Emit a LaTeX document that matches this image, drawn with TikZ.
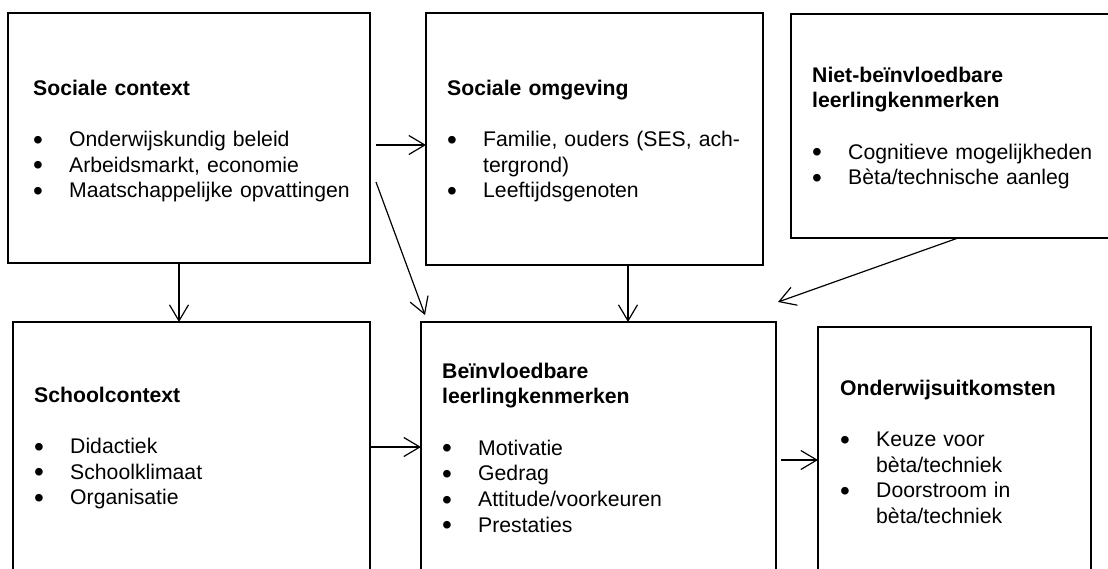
\documentclass[tikz,border=0pt]{standalone}
\usepackage{fontspec}
\setmainfont{Liberation Sans}
\usepackage{tikz}
\usetikzlibrary{arrows.meta,calc}
\newcommand{\bol}{\makebox[36pt][l]{\raisebox{-2.6pt}{\fontsize{28}{25.7}\selectfont\textbullet}}}
\newcommand{\verv}{\hspace*{36pt}}

\begin{document}
\begin{tikzpicture}[x=1pt,y=-1pt,
  font=\fontsize{21.2}{25.7}\selectfont,
  kader/.style={draw,line width=1.8pt,anchor=north west,inner sep=0pt,outer sep=0pt},
  tekst/.style={anchor=base west,inner sep=0pt,align=left,text width=#1},
  pijl/.style={-{Straight Barb[length=16pt,width=19pt]},line width=1.2pt}]
\useasboundingbox (0,0) rectangle (1108,568);
\clip (0,0) rectangle (1108,568);
\node[kader,minimum width=362pt,minimum height=250pt] (ctx) at (8,13) {};
\node[tekst=330pt] (ctxT) at (33,95) {\textbf{Sociale context}\\[25.7pt]\bol Onderwijskundig beleid\\\bol Arbeidsmarkt, economie\\\bol Maatschappelijke opvattingen};
\node[kader,minimum width=337pt,minimum height=252pt] (omg) at (426,13) {};
\node[tekst=310pt] (omgT) at (447,95) {\textbf{Sociale omgeving}\\[25.7pt]\bol Familie, ouders (SES, ach-\\\verv tergrond)\\\bol Leeftijdsgenoten};
\node[kader,minimum width=324pt,minimum height=224pt] (niet) at (791,14) {};
\node[tekst=290pt] (nietT) at (812,82) {\textbf{Niet-beïnvloedbare}\\\textbf{leerlingkenmerken}\\[25.7pt]\bol Cognitieve mogelijkheden\\\bol Bèta/technische aanleg};
\node[kader,minimum width=357pt,minimum height=260pt] (school) at (13,322) {};
\node[tekst=320pt] (schoolT) at (34,402) {\textbf{Schoolcontext}\\[25.7pt]\bol Didactiek\\\bol Schoolklimaat\\\bol Organisatie};
\node[kader,minimum width=355pt,minimum height=258pt] (beinv) at (421,322) {};
\node[tekst=320pt] (beinvT) at (442,378) {\textbf{Beïnvloedbare}\\\textbf{leerlingkenmerken}\\[25.7pt]\bol Motivatie\\\bol Gedrag\\\bol Attitude/voorkeuren\\\bol Prestaties};
\node[kader,minimum width=273pt,minimum height=253pt] (uitk) at (818,327) {};
\node[tekst=240pt] (uitkT) at (840,395) {\textbf{Onderwijsuitkomsten}\\[25.7pt]\bol Keuze voor\\\verv bèta/techniek\\\bol Doorstroom in\\\verv bèta/techniek};
\coordinate (p1) at (376,145);
\coordinate (p2) at (376,182);
\coordinate (q2) at (425,315);
\coordinate (p3) at (958,0);
\coordinate (q3) at (778,302);
\coordinate (x1) at (179,0);
\coordinate (x2) at (628,0);
\coordinate (y4) at (0,447);
\coordinate (p5) at (781,460);
\draw[pijl] (p1) -- (p1 -| omg.west);
\draw[pijl] (p2) -- (q2);
\draw[pijl] (ctx.south -| x1) -- (school.north -| x1);
\draw[pijl] (omg.south -| x2) -- (beinv.north -| x2);
\draw[pijl] (niet.south -| p3) -- (q3);
\draw[pijl] (school.east |- y4) -- (beinv.west |- y4);
\draw[pijl] (p5) -- (p5 -| uitk.west);
\end{tikzpicture}
\end{document}
